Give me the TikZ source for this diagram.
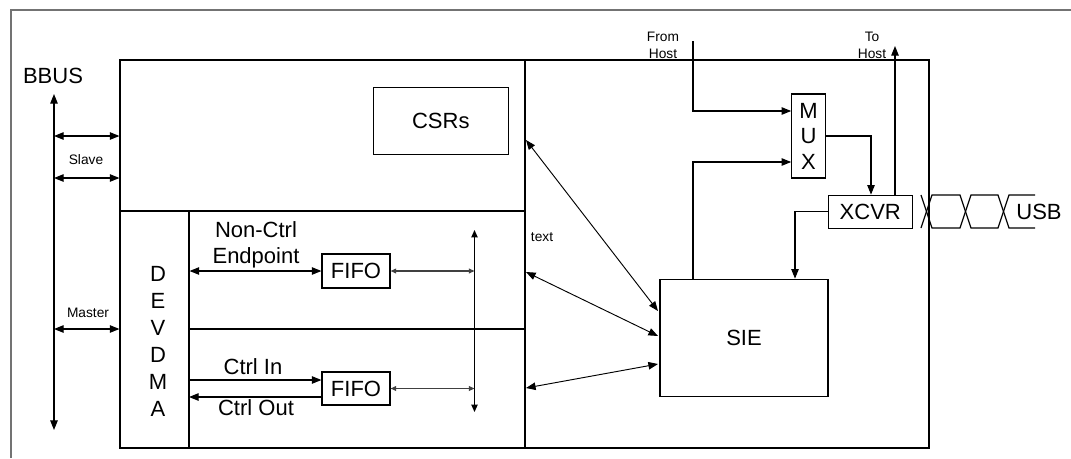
\documentclass[tikz,border=0pt]{standalone}
\usepackage{fontspec}
\setmainfont{Liberation Sans}
\usetikzlibrary{arrows.meta}
\begin{document}
\begin{tikzpicture}[x=0.75pt,y=-0.75pt,
  line width=0.85pt,
  region/.style={draw, rectangle, inner sep=0pt},
  blk/.style={draw, rectangle, inner sep=0pt, font=\fontsize{16.5}{19.5}\selectfont},
  big/.style={font=\fontsize{16.5}{19.5}\selectfont, inner sep=0pt},
  small/.style={font=\fontsize{10.3}{12.75}\selectfont, inner sep=0pt},
  dbl/.style={arrows={Triangle[length=7.2pt,width=5.6pt]-Triangle[length=7.2pt,width=5.6pt]}},
  one/.style={arrows={-Triangle[length=7.2pt,width=5.6pt]}},
  dblsmall/.style={arrows={Triangle[length=4.2pt,width=3.6pt]-Triangle[length=4.2pt,width=3.6pt]}},
  dblmid/.style={arrows={Triangle[length=5.6pt,width=4.8pt]-Triangle[length=5.6pt,width=4.8pt]}},
]
\useasboundingbox (0,0) rectangle (1071,458);
% outer frame
\draw[gray!90!black] (11,458) -- (11,10) -- (1071,10);

% main regions
\node[region, minimum width=809*0.75pt, minimum height=388*0.75pt] (mainblk) at (524.5,254) {};
\node[region, minimum width=405*0.75pt, minimum height=151*0.75pt] (csrreg) at (322.5,135.5) {};
\node[region, minimum width=69*0.75pt, minimum height=237*0.75pt] (devdma) at (154.5,329.5) {};
\node[region, minimum width=336*0.75pt, minimum height=118*0.75pt] (ep1) at (357,270) {};
\node[region, minimum width=336*0.75pt, minimum height=119*0.75pt] (ep2) at (357,388.5) {};

% DEVDMA letters
\node[big, align=center, font=\fontsize{16.5}{20.25}\selectfont] (devdmatxt) at (158,341) {D\\E\\V\\D\\M\\A};

% blocks
\node[blk, minimum width=135*0.75pt, minimum height=67*0.75pt] (csrs) at (440.8,121.3) {CSRs};
\node[blk, minimum width=68*0.75pt, minimum height=34*0.75pt] (fifo1) at (356,271) {FIFO};
\node[blk, minimum width=68*0.75pt, minimum height=33*0.75pt] (fifo2) at (356,388.5) {FIFO};
\node[blk, minimum width=33.5*0.75pt, minimum height=84*0.75pt, align=center, font=\fontsize{16.5}{19.1}\selectfont] (mux) at (808.5,136) {M\\U\\X};
\node[blk, minimum width=84*0.75pt, minimum height=33*0.75pt] (xcvr) at (870.3,211.7) {XCVR};
\node[blk, minimum width=168*0.75pt, minimum height=117*0.75pt] (sie) at (744,337.7) {SIE};

% labels
\node[big] (bbus) at (53,76) {BBUS};
\node[small] (slavelbl) at (86,160) {Slave};
\node[small] (masterlbl) at (88,313) {Master};
\node[big, align=center, font=\fontsize{16.5}{19.5}\selectfont] (nclbl) at (256,245) {Non-Ctrl\\Endpoint};
\node[big] (cinlbl) at (253,367) {Ctrl In};
\node[big] (coutlbl) at (256,408) {Ctrl Out};
\node[small] (textlbl) at (542,237) {text};
\node[small, align=center, font=\fontsize{10.3}{12.75}\selectfont] (fromhost) at (663,45) {From\\Host};
\node[small, align=center, font=\fontsize{10.3}{12.75}\selectfont] (tohost) at (872,45) {To\\Host};
\node[big] (usb) at (1039,212) {USB};

% BBUS bus
\coordinate (bbtop) at (54,94);
\coordinate (bbbot) at (54,430);
\draw[dbl] (bbtop) -- (bbbot);
\coordinate (s1) at (54,136);
\coordinate (s2) at (54,178);
\coordinate (m1) at (54,329);
\draw[dbl] (s1) -- (s1 -| csrreg.west);
\draw[dbl] (s2) -- (s2 -| csrreg.west);
\draw[dbl] (m1) -- (m1 -| devdma.west);

% DMA internal
\draw[dbl] (devdma.east |- fifo1.west) -- (fifo1.west);
\coordinate (cin) at (189,380);
\coordinate (cout) at (189,397);
\draw[one] (cin) -- (cin -| fifo2.west);
\draw[one] (cout -| fifo2.west) -- (cout);
\coordinate (vbtop) at (474.5,230);
\coordinate (vbbot) at (474.5,412);
\draw[dblmid] (vbtop) -- (vbbot);
\draw[dblsmall, black!75] (fifo1.east) -- (fifo1.east -| vbtop);
\draw[dblsmall, black!75] (fifo2.east) -- (fifo2.east -| vbtop);

% to SIE
\coordinate (c1) at (526,140);
\coordinate (c2) at (526,272);
\coordinate (c3) at (526,388);
\draw[dbl, line width=0.7pt] (c1) -- (658,311);
\draw[dbl, line width=0.7pt] (c2) -- (658,336);
\draw[dbl, line width=0.7pt] (c3) -- (658,364);

% MUX / XCVR
\coordinate (fh) at (693,41);
\draw[one] (fh) -- (693,111) -- (693,111 -| mux.west);
\draw[one] (sie.north -| 693,0) -- (693,162) -- (693,162 -| mux.west);
\draw[one] (mux.east) -- (871,136) -- (871,136 |- xcvr.north);
\coordinate (th) at (895,46);
\draw[one] (xcvr.north -| th) -- (th);
\draw[one] (xcvr.west) -- (795,211.7) -- (795,211.7 |- sie.north);

% USB signal
\draw (921,195) -- (932,228) -- (960,228) -- (971,195) -- (998,195) -- (1009,228) -- (1035,228);
\draw (921,228) -- (932,195) -- (960,195) -- (971,228) -- (998,228) -- (1009,195) -- (1035,195);
\end{tikzpicture}
\end{document}
